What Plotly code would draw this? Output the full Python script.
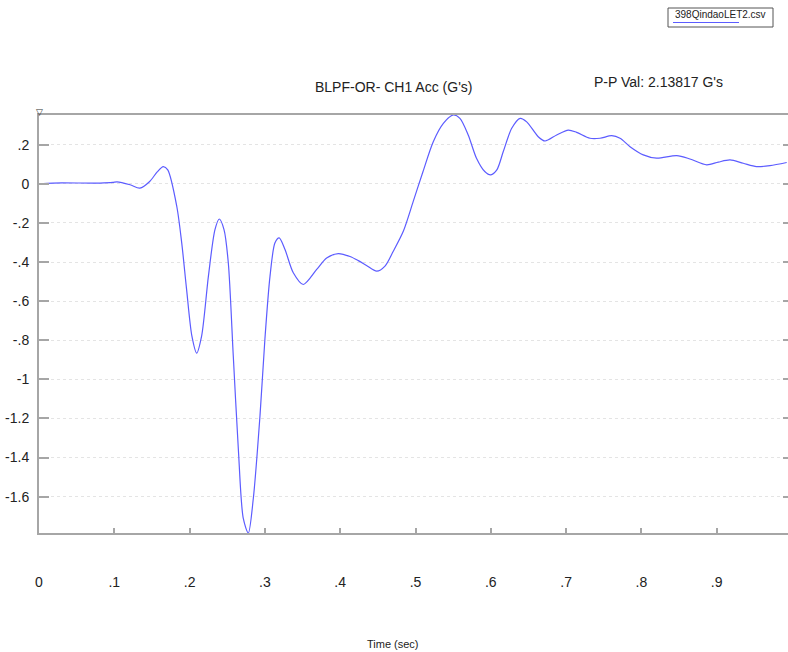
import plotly.graph_objects as go

# Filtered channel 1 acceleration trace
time_s = [0.0, 0.0186, 0.081, 0.098, 0.1036, 0.121, 0.134, 0.147, 0.157, 0.165, 0.171,
          0.183, 0.1895, 0.196, 0.203, 0.2094, 0.216, 0.225, 0.2337, 0.2394, 0.2457,
          0.2514, 0.258, 0.2647, 0.2713, 0.278, 0.2846, 0.2935, 0.300, 0.3068, 0.3134,
          0.319, 0.3267, 0.3377, 0.351, 0.3688, 0.382, 0.3975, 0.413, 0.424, 0.435,
          0.4485, 0.4595, 0.4705, 0.4838, 0.497, 0.510, 0.5236, 0.537, 0.5502, 0.559,
          0.570, 0.581, 0.592, 0.600, 0.608, 0.6166, 0.6278, 0.639, 0.6477, 0.663,
          0.672, 0.6875, 0.703, 0.714, 0.7317, 0.745, 0.7606, 0.7716, 0.7849, 0.8025,
          0.8203, 0.8469, 0.8645, 0.8867, 0.9021, 0.9177, 0.9353, 0.953, 0.9708, 0.993]
acc_g = [0.0, 0.004, 0.004, 0.007, 0.010, -0.005, -0.022, 0.012, 0.061, 0.088, 0.071,
         -0.116, -0.301, -0.540, -0.778, -0.866, -0.778, -0.472, -0.234, -0.180, -0.234,
         -0.404, -0.880, -1.355, -1.712, -1.7862, -1.610, -1.186, -0.795, -0.472, -0.302,
         -0.277, -0.336, -0.455, -0.515, -0.438, -0.379, -0.357, -0.372, -0.393, -0.418,
         -0.447, -0.421, -0.345, -0.243, -0.090, 0.063, 0.2155, 0.309, 0.35197, 0.335,
         0.250, 0.131, 0.063, 0.046, 0.071, 0.165, 0.284, 0.335, 0.317, 0.241,
         0.219, 0.250, 0.275, 0.263, 0.233, 0.233, 0.246, 0.233, 0.190, 0.148,
         0.131, 0.144, 0.127, 0.097, 0.111, 0.122, 0.105, 0.088, 0.093, 0.109]

x_ticks = [0, 0.1, 0.2, 0.3, 0.4, 0.5, 0.6, 0.7, 0.8, 0.9]
x_tick_text = ["0", ".1", ".2", ".3", ".4", ".5", ".6", ".7", ".8", ".9"]
y_ticks = [0.2, 0, -0.2, -0.4, -0.6, -0.8, -1.0, -1.2, -1.4, -1.6]
y_tick_text = [".2", "0", "-.2", "-.4", "-.6", "-.8", "-1", "-1.2", "-1.4", "-1.6"]

file_name = "398QindaoLET2.csv"
chart_title = "BLPF-OR- CH1 Acc (G's)"
x_title = "Time (sec)"

y_min, y_max = min(acc_g), max(acc_g)
pp_val = y_max - y_min

W, H = 788, 652
L, R, T, B = 39, 0, 115, 119
PW, PH = W - L - R, H - T - B


def px(x):
    return (x - L) / PW


def py(y):
    return (H - B - y) / PH


FONT = "Liberation Sans, Arial, sans-serif"
AXIS_GREY = "#a6a6a6"
LINE_BLUE = "#5c5cff"

fig = go.Figure()
fig.add_trace(go.Scatter(
    x=time_s, y=acc_g, mode="lines",
    line=dict(color=LINE_BLUE, width=1.2, shape="spline", smoothing=0.8),
    showlegend=False, hoverinfo="skip",
))
# invisible trace that carries the right-hand tick marks
fig.add_trace(go.Scatter(x=[0], y=[0], yaxis="y2", mode="markers",
                         marker=dict(opacity=0), showlegend=False, hoverinfo="skip"))

fig.update_layout(
    width=W, height=H, autosize=False,
    margin=dict(l=L, r=R, t=T, b=B),
    paper_bgcolor="white", plot_bgcolor="white",
    font=dict(family=FONT, size=14, color="#222"),
    xaxis=dict(
        range=[0, 0.9947], tickvals=x_ticks, ticktext=x_tick_text,
        ticks="inside", ticklen=5, tickwidth=2, tickcolor=AXIS_GREY,
        showline=True, linecolor=AXIS_GREY, linewidth=2, mirror=True,
        showgrid=False, zeroline=False, ticklabelstandoff=35,
        tickfont=dict(size=14, color="#222"),
    ),
    yaxis=dict(
        range=[y_min, y_max], tickvals=y_ticks, ticktext=y_tick_text,
        ticks="inside", ticklen=10, tickwidth=2, tickcolor=AXIS_GREY,
        showline=True, linecolor=AXIS_GREY, linewidth=2,
        showgrid=True, gridcolor="#e4e4e4", griddash="dot", gridwidth=1,
        zeroline=False, ticklabelstandoff=5,
        tickfont=dict(size=14, color="#222"),
    ),
    yaxis2=dict(
        range=[y_min, y_max], tickvals=y_ticks, overlaying="y", side="right",
        ticks="inside", ticklen=5, tickwidth=2, tickcolor=AXIS_GREY,
        showticklabels=False, showline=False, showgrid=False, zeroline=False,
    ),
)

annotations = [
    dict(text=chart_title, x=px(393), y=py(87), font=dict(size=14)),
    dict(text=f"P-P Val: {pp_val:.5f} G's", x=px(658), y=py(82), font=dict(size=14)),
    dict(text=x_title, x=px(393), y=py(644), font=dict(size=11)),
    dict(text=file_name, x=px(673), y=py(14), xanchor="left", font=dict(size=10)),
    dict(text="▽", x=px(39), y=py(112), font=dict(size=9, color="#333")),
]
for a in annotations:
    a.setdefault("xanchor", "center")
    fig.add_annotation(xref="paper", yref="paper", showarrow=False, yanchor="middle", **a)

fig.add_shape(type="rect", xref="paper", yref="paper",
              x0=px(668), x1=px(773), y0=py(27), y1=py(8),
              line=dict(color="#555", width=1), fillcolor="white", layer="below")
fig.add_shape(type="line", xref="paper", yref="paper",
              x0=px(673), x1=px(739), y0=py(22.5), y1=py(22.5),
              line=dict(color=LINE_BLUE, width=1.2))

fig.write_html("out.html")
